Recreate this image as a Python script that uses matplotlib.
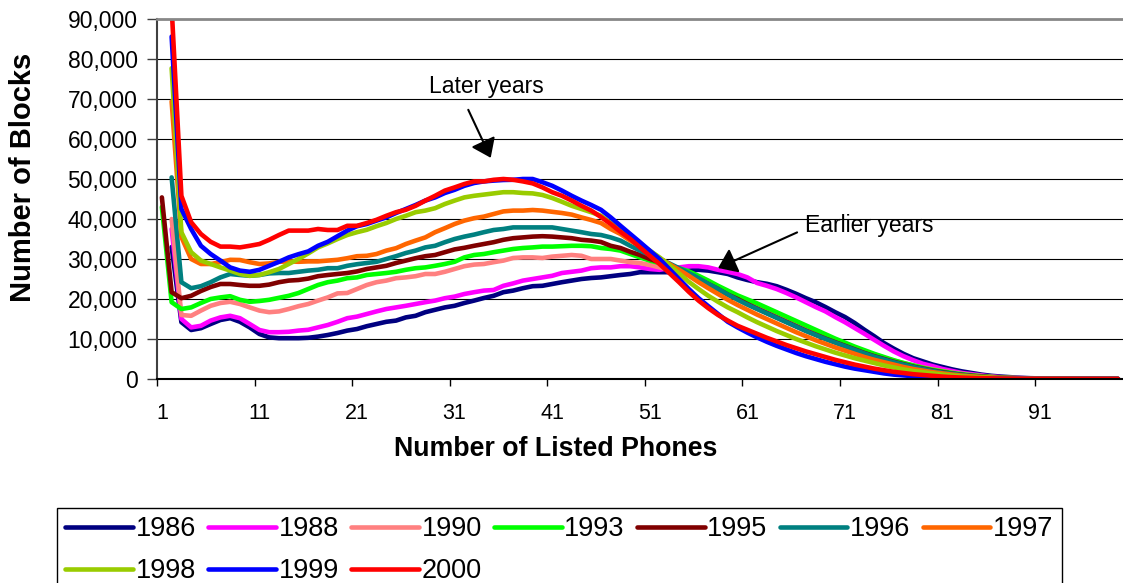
import numpy as np
import matplotlib
matplotlib.use("Agg")
import matplotlib.pyplot as plt
from matplotlib.ticker import FuncFormatter

plt.rcParams["font.family"] = ["Liberation Sans", "DejaVu Sans"]

nan = np.nan

# Number of blocks (thousands) for 1..99 listed phones
blocks_1986 = [
    nan, 33.0, 14.2, 12.25, 12.7, 13.75, 14.75, 15.2, 14.3, 12.9,
    11.25, 10.4, 10.2, 10.2, 10.2, 10.3, 10.6, 11.0, 11.5, 12.1,
    12.5, 13.2, 13.75, 14.3, 14.6, 15.4, 15.8, 16.7, 17.3, 17.9,
    18.3, 19.0, 19.6, 20.25, 20.8, 21.7, 22.1, 22.7, 23.2, 23.3,
    23.75, 24.2, 24.6, 25.0, 25.25, 25.4, 25.7, 26.0, 26.25, 26.7,
    26.7, 26.7, 26.7, 26.8, 27.1, 27.3, 27.1, 26.7, 26.25, 25.4,
    24.75, 24.2, 23.8, 23.2, 22.3, 21.3, 20.2, 19.2, 18.0, 16.7,
    15.5, 14.0, 12.3, 10.7, 9.0, 7.6, 6.3, 5.2, 4.4, 3.6,
    3.0, 2.4, 1.9, 1.5, 1.1, 0.8, 0.6, 0.45, 0.3, 0.2,
    0.15, 0.1, 0.08, 0.06, 0.05, 0.04, 0.03, 0.03, 0.02,
]
blocks_1988 = [
    nan, 37.5, 15.0, 12.9, 13.3, 14.6, 15.4, 15.8, 15.2, 13.75,
    12.25, 11.7, 11.7, 11.8, 12.1, 12.3, 12.9, 13.5, 14.3, 15.2,
    15.6, 16.25, 16.9, 17.5, 17.9, 18.3, 18.75, 19.2, 19.6, 20.2,
    20.6, 21.25, 21.7, 22.1, 22.25, 23.3, 23.9, 24.6, 25.0, 25.4,
    25.8, 26.5, 26.8, 27.1, 27.7, 27.9, 27.9, 28.2, 28.2, 27.9,
    27.5, 27.3, 27.7, 27.9, 28.2, 28.2, 27.9, 27.3, 26.8, 26.25,
    25.4, 24.0, 23.3, 22.5, 21.5, 20.4, 19.2, 18.0, 16.9, 15.5,
    14.2, 12.75, 11.3, 9.8, 8.3, 6.9, 5.7, 4.7, 3.8, 3.2,
    2.5, 2.0, 1.5, 1.2, 0.9, 0.6, 0.45, 0.3, 0.2, 0.15,
    0.1, 0.08, 0.06, 0.05, 0.04, 0.03, 0.03, 0.02, 0.02,
]
blocks_1990 = [
    nan, 40.0, 16.0, 15.8, 17.1, 18.3, 19.0, 19.3, 18.75, 17.9,
    17.1, 16.7, 16.9, 17.5, 18.2, 18.75, 19.6, 20.4, 21.4, 21.5,
    22.5, 23.5, 24.2, 24.6, 25.2, 25.4, 25.7, 26.25, 26.25, 26.8,
    27.5, 28.2, 28.6, 28.75, 29.2, 29.6, 30.25, 30.4, 30.4, 30.25,
    30.6, 30.8, 31.0, 30.8, 30.0, 30.0, 30.0, 29.6, 29.2, 29.0,
    28.5, 27.9, 27.3, 26.7, 26.0, 25.2, 24.2, 23.1, 21.8, 20.6,
    19.3, 18.2, 17.1, 16.0, 14.9, 13.8, 12.7, 11.6, 10.6, 9.6,
    8.7, 7.8, 6.9, 6.1, 5.3, 4.6, 4.0, 3.4, 2.9, 2.4,
    2.0, 1.6, 1.3, 1.0, 0.75, 0.55, 0.4, 0.3, 0.2, 0.15,
    0.1, 0.08, 0.06, 0.05, 0.04, 0.03, 0.03, 0.02, 0.02,
]
blocks_1993 = [
    43.0, 19.2, 17.5, 17.9, 19.0, 20.0, 20.4, 20.7, 19.8, 19.3,
    19.5, 19.8, 20.3, 20.8, 21.5, 22.5, 23.5, 24.2, 24.6, 25.2,
    25.4, 26.0, 26.25, 26.5, 26.8, 27.3, 27.7, 27.9, 28.3, 28.75,
    29.3, 30.4, 31.0, 31.25, 31.7, 32.1, 32.5, 32.75, 32.9, 33.1,
    33.1, 33.2, 33.3, 33.3, 33.2, 32.75, 32.5, 32.1, 31.25, 30.4,
    29.6, 29.0, 28.3, 27.7, 26.9, 25.8, 24.6, 23.3, 22.1, 20.9,
    19.9, 18.9, 17.8, 16.7, 15.6, 14.5, 13.4, 12.3, 11.2, 10.1,
    9.1, 8.1, 7.2, 6.3, 5.5, 4.7, 4.0, 3.4, 2.8, 2.3,
    1.9, 1.5, 1.2, 0.9, 0.7, 0.5, 0.35, 0.25, 0.18, 0.12,
    0.08, 0.06, 0.05, 0.04, 0.03, 0.02, 0.02, 0.02, 0.01,
]
blocks_1995 = [
    45.4, 21.7, 20.2, 20.8, 22.0, 23.0, 23.75, 23.75, 23.5, 23.3,
    23.3, 23.6, 24.2, 24.6, 24.75, 25.1, 25.7, 26.0, 26.25, 26.5,
    26.9, 27.5, 27.9, 28.3, 29.0, 29.6, 30.2, 30.7, 31.0, 31.7,
    32.4, 32.8, 33.3, 33.75, 34.2, 34.8, 35.2, 35.4, 35.6, 35.7,
    35.6, 35.4, 35.2, 34.8, 34.6, 34.25, 33.3, 32.75, 31.8, 31.0,
    30.0, 29.2, 28.3, 27.3, 26.25, 25.0, 23.75, 22.5, 21.1, 20.0,
    18.75, 17.6, 16.5, 15.4, 14.3, 13.2, 12.1, 11.1, 10.1, 9.2,
    8.3, 7.4, 6.5, 5.7, 5.0, 4.3, 3.7, 3.1, 2.6, 2.1,
    1.7, 1.35, 1.05, 0.8, 0.6, 0.45, 0.32, 0.22, 0.15, 0.1,
    0.07, 0.05, 0.04, 0.03, 0.02, 0.02, 0.01, 0.01, 0.01,
]
blocks_1996 = [
    nan, 50.4, 24.2, 22.7, 23.2, 24.2, 25.4, 26.25, 26.0, 25.8,
    26.0, 26.4, 26.5, 26.5, 26.8, 27.1, 27.3, 27.7, 27.7, 28.3,
    28.7, 29.0, 29.3, 30.0, 30.7, 31.5, 32.1, 32.9, 33.3, 34.2,
    35.0, 35.6, 36.1, 36.7, 37.25, 37.5, 37.9, 37.9, 37.9, 37.9,
    37.9, 37.5, 37.1, 36.7, 36.25, 36.0, 35.4, 34.6, 33.3, 32.1,
    31.0, 30.0, 28.9, 27.7, 26.5, 25.2, 23.75, 22.5, 21.1, 19.8,
    18.6, 17.5, 16.4, 15.3, 14.2, 13.1, 12.0, 11.0, 10.0, 9.1,
    8.2, 7.3, 6.4, 5.6, 4.9, 4.2, 3.6, 3.0, 2.5, 2.0,
    1.6, 1.3, 1.0, 0.75, 0.55, 0.4, 0.3, 0.2, 0.14, 0.1,
    0.07, 0.05, 0.04, 0.03, 0.02, 0.02, 0.01, 0.01, 0.01,
]
blocks_1997 = [
    nan, 69.4, 35.5, 30.0, 28.75, 28.75, 29.2, 29.8, 29.75, 29.2,
    28.75, 28.9, 29.3, 29.4, 29.3, 29.4, 29.4, 29.6, 29.8, 30.2,
    30.7, 30.8, 31.25, 32.1, 32.7, 33.75, 34.6, 35.4, 36.7, 37.7,
    38.75, 39.6, 40.2, 40.6, 41.25, 41.9, 42.1, 42.1, 42.25, 42.1,
    41.8, 41.5, 41.1, 40.4, 39.75, 39.0, 37.5, 36.25, 34.6, 33.2,
    31.7, 30.2, 28.75, 27.3, 25.8, 24.2, 22.7, 21.25, 19.8, 18.5,
    17.3, 16.1, 15.0, 13.9, 12.8, 11.7, 10.7, 9.7, 8.8, 7.9,
    7.1, 6.3, 5.5, 4.8, 4.2, 3.6, 3.0, 2.5, 2.1, 1.7,
    1.4, 1.1, 0.85, 0.65, 0.5, 0.37, 0.27, 0.2, 0.14, 0.1,
    0.07, 0.05, 0.04, 0.03, 0.02, 0.02, 0.01, 0.01, 0.01,
]
blocks_1998 = [
    nan, 77.7, 36.7, 31.7, 29.6, 28.75, 27.9, 27.1, 26.25, 25.8,
    26.0, 26.7, 27.5, 28.75, 30.0, 31.4, 32.9, 33.9, 35.0, 36.0,
    36.7, 37.3, 38.2, 39.0, 40.0, 40.8, 41.7, 42.1, 42.7, 43.75,
    44.6, 45.4, 45.8, 46.1, 46.4, 46.7, 46.7, 46.5, 46.4, 46.0,
    45.25, 44.3, 43.3, 42.5, 41.7, 40.8, 39.0, 37.25, 35.4, 33.75,
    32.1, 30.4, 28.5, 26.4, 24.3, 22.5, 20.8, 19.3, 17.9, 16.7,
    15.4, 14.2, 13.1, 12.0, 11.0, 10.0, 9.1, 8.2, 7.4, 6.6,
    5.9, 5.2, 4.6, 4.0, 3.4, 2.9, 2.4, 2.0, 1.7, 1.4,
    1.1, 0.85, 0.65, 0.5, 0.38, 0.28, 0.2, 0.15, 0.1, 0.07,
    0.05, 0.04, 0.03, 0.02, 0.02, 0.01, 0.01, 0.01, 0.01,
]
blocks_1999 = [
    nan, 85.6, 42.5, 37.5, 33.3, 31.25, 29.6, 27.9, 27.1, 26.8,
    27.3, 28.3, 29.3, 30.4, 31.2, 31.9, 33.3, 34.3, 35.7, 37.1,
    38.2, 38.75, 39.6, 40.4, 41.5, 42.5, 43.5, 44.6, 45.4, 46.5,
    47.3, 48.3, 49.0, 49.4, 49.6, 49.75, 49.8, 50.0, 50.0, 49.2,
    48.3, 47.1, 45.8, 44.6, 43.5, 42.3, 40.4, 38.3, 36.25, 34.2,
    32.1, 30.0, 27.5, 25.0, 22.5, 20.2, 18.2, 16.25, 14.3, 12.9,
    11.6, 10.4, 9.3, 8.3, 7.4, 6.5, 5.7, 5.0, 4.3, 3.7,
    3.1, 2.6, 2.2, 1.8, 1.4, 1.1, 0.9, 0.7, 0.5, 0.4,
    0.3, 0.22, 0.16, 0.12, 0.09, 0.07, 0.05, 0.04, 0.03, 0.02,
    0.02, 0.01, 0.01, 0.01, 0.01, 0.01, 0.01, 0.01, 0.01,
]
blocks_2000 = [
    nan, 93.0, 45.8, 39.2, 36.25, 34.3, 33.1, 33.1, 32.9, 33.3,
    33.75, 34.8, 36.0, 37.1, 37.1, 37.1, 37.5, 37.25, 37.25, 38.3,
    38.3, 39.0, 39.8, 40.8, 41.7, 42.3, 43.3, 44.6, 45.8, 47.1,
    47.9, 48.75, 49.4, 49.4, 49.8, 50.0, 49.8, 49.4, 48.9, 47.9,
    46.7, 45.8, 44.6, 43.3, 42.1, 40.5, 38.75, 36.8, 35.0, 32.9,
    30.8, 28.75, 26.5, 24.2, 21.8, 19.6, 17.7, 16.0, 14.6, 13.3,
    12.3, 11.3, 10.3, 9.4, 8.5, 7.7, 6.9, 6.2, 5.5, 4.8,
    4.2, 3.6, 3.1, 2.6, 2.2, 1.8, 1.5, 1.2, 1.0, 0.8,
    0.6, 0.45, 0.35, 0.27, 0.2, 0.15, 0.11, 0.08, 0.06, 0.04,
    0.03, 0.02, 0.02, 0.02, 0.01, 0.01, 0.01, 0.01, 0.01,
]

years = ["1986", "1988", "1990", "1993", "1995", "1996", "1997", "1998", "1999", "2000"]
series = [blocks_1986, blocks_1988, blocks_1990, blocks_1993, blocks_1995,
          blocks_1996, blocks_1997, blocks_1998, blocks_1999, blocks_2000]
colors = ["#000080", "#FF00FF", "#FF8080", "#00FF00", "#800000",
          "#008080", "#FF6600", "#99CC00", "#0000FF", "#FF0000"]

x_tick_labels = ["1", "11", "21", "31", "41", "51", "61", "71", "81", "91"]

W, H = 1123, 583
fig = plt.figure(figsize=(W / 100, H / 100), dpi=100)
ax = fig.add_axes([157 / W, 1 - 379 / H, (W - 157) / W, (379 - 19) / H])

handles = []
for year, vals, color in zip(years, series, colors):
    vals = np.array(vals) * 1000
    x = np.arange(1, len(vals) + 1)
    line, = ax.plot(x, vals, color=color, lw=3.3, label=year,
                    solid_joinstyle="round", solid_capstyle="round")
    handles.append(line)

ax.set_xlim(0.5, 99.5)
ax.set_ylim(0, 90000)

# y axis
ax.set_yticks(np.arange(0, 90001, 10000))
ax.yaxis.set_major_formatter(FuncFormatter(lambda v, p: f"{int(v):,}"))
ax.tick_params(axis="y", length=7, width=1, pad=7, labelsize=16.5, color="#404040")
ax.grid(axis="y", color="black", lw=0.8)
ax.set_axisbelow(True)

# x axis: marks between categories, labels on categories
ax.set_xticks(np.arange(0.5, 99, 10))
ax.set_xticklabels([])
ax.set_xticks([int(t) for t in x_tick_labels], minor=True)
ax.set_xticklabels(x_tick_labels, minor=True)
ax.tick_params(axis="x", which="major", length=5, width=1)
ax.tick_params(axis="x", which="minor", length=0, pad=17.5, labelsize=15.5)

ax.spines["right"].set_visible(False)
ax.spines["top"].set_color("#888888")
ax.spines["top"].set_linewidth(2)
ax.spines["left"].set_color("#404040")
ax.spines["left"].set_linewidth(1.5)
ax.spines["bottom"].set_linewidth(1.5)

# annotations
arrow = dict(arrowstyle="-|>,head_length=0.55,head_width=0.4", color="black",
             lw=1.5, shrinkA=0, shrinkB=0, mutation_scale=20)
ax.annotate("", xy=(34.7, 55300), xytext=(32.4, 67300), arrowprops=arrow)
ax.text(34.3, 73100, "Later years", ha="center", va="center", fontsize=16.5)
ax.annotate("", xy=(58.0, 27750), xytext=(66.1, 36650), arrowprops=arrow)
ax.text(66.9, 38300, "Earlier years", ha="left", va="center", fontsize=16.5)

# axis titles
fig.text(555.5 / W, 1 - 449 / H, "Number of Listed Phones", ha="center", va="center",
         fontsize=19.3, fontweight="bold")
fig.text(23 / W, 1 - 177.5 / H, "Number of Blocks", ha="center", va="center",
         rotation=90, fontsize=21, fontweight="bold")

# legend filled row by row (matplotlib fills columns first)
order = [0, 7, 1, 8, 2, 9, 3, 4, 5, 6]
fig.legend([handles[i] for i in order], [years[i] for i in order],
           loc="upper left", bbox_to_anchor=(57 / W, 1 - 508 / H), ncol=7,
           fontsize=19.5, frameon=True, fancybox=False, edgecolor="black",
           framealpha=1, handlelength=2.5, handletextpad=0.1, columnspacing=0.45,
           borderpad=0.3, labelspacing=0.6, borderaxespad=0)

fig.savefig("out.png", dpi=100)
